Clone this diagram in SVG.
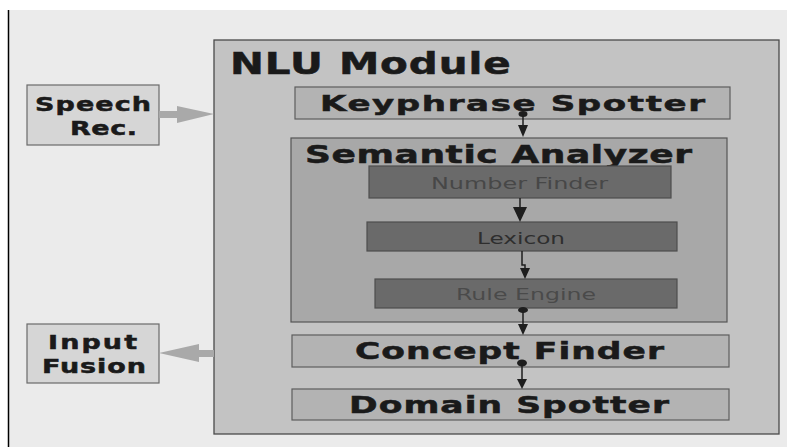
<svg xmlns="http://www.w3.org/2000/svg" width="787" height="447" viewBox="0 0 787 447">
<defs>
<style>
.bg{fill:#ebebeb}
.side{fill:#d6d6d6;stroke:#6a6a6a;stroke-width:1.2}
.mod{fill:#c3c3c3;stroke:#4a4a4a;stroke-width:1.3}
.stage{fill:#b3b3b3;stroke:#5e5e5e;stroke-width:1.2}
.sem{fill:#a8a8a8;stroke:#555;stroke-width:1.2}
.inner{fill:#6a6a6a;stroke:#4e4e4e;stroke-width:1.2}
.bold{font-family:"DejaVu Sans",Verdana,sans-serif;font-weight:bold;fill:#1a1a1a;stroke:#1a1a1a;stroke-width:0.5}
.thin{font-family:"DejaVu Sans",Verdana,sans-serif;font-weight:normal}
.conn{stroke:#1e1e1e;stroke-width:1.5;fill:none}
.head{fill:#1e1e1e}
.garrow{fill:#a9a9a9}
</style>
</defs>
<rect x="0" y="0" width="787" height="447" fill="#ffffff"/>
<rect class="bg" x="8" y="10" width="779" height="437"/>
<line x1="8.5" y1="10" x2="8.5" y2="447" stroke="#000" stroke-width="1.5"/>

<g id="nlu-module">
<rect class="mod" x="214" y="40" width="565" height="394"/>
<text class="bold" transform="translate(230,74) scale(1.35,1)" font-size="30" textLength="208" lengthAdjust="spacing">NLU Module</text>
</g>

<g id="speech-rec">
<rect class="side" x="27" y="85" width="132" height="60"/>
<text class="bold" transform="translate(35,110.5) scale(1.35,1)" font-size="20" textLength="86" lengthAdjust="spacing">Speech</text>
<text class="bold" transform="translate(70,135) scale(1.35,1)" font-size="20" textLength="49.6" lengthAdjust="spacing">Rec.</text>
</g>

<g id="input-fusion">
<rect class="side" x="27" y="324" width="132" height="59"/>
<text class="bold" transform="translate(48,349) scale(1.35,1)" font-size="20" textLength="66" lengthAdjust="spacing">Input</text>
<text class="bold" transform="translate(42,373) scale(1.35,1)" font-size="20" textLength="77" lengthAdjust="spacing">Fusion</text>
</g>

<g id="keyphrase-spotter">
<rect class="stage" x="295" y="87" width="435" height="32"/>
<text class="bold" transform="translate(320,111) scale(1.55,1)" font-size="22" textLength="248.4" lengthAdjust="spacing">Keyphrase Spotter</text>
</g>

<g id="semantic-analyzer">
<rect class="sem" x="291" y="138" width="436" height="184"/>
<text class="bold" transform="translate(305,163) scale(1.5,1)" font-size="24" textLength="258" lengthAdjust="spacing">Semantic Analyzer</text>
</g>

<g id="number-finder">
<rect class="inner" x="369" y="166" width="302" height="32"/>
<text class="thin" x="431" y="188.5" font-size="16" fill="#474747" textLength="177" lengthAdjust="spacingAndGlyphs">Number Finder</text>
</g>

<g id="lexicon">
<rect class="inner" x="367" y="222" width="310" height="29"/>
<text class="thin" x="477" y="243.5" font-size="16" fill="#2e2e2e" textLength="88" lengthAdjust="spacingAndGlyphs">Lexicon</text>
</g>

<g id="rule-engine">
<rect class="inner" x="375" y="279" width="302" height="29"/>
<text class="thin" x="456" y="299.5" font-size="16" fill="#4a4a4a" textLength="140" lengthAdjust="spacingAndGlyphs">Rule Engine</text>
</g>

<g id="concept-finder">
<rect class="stage" x="292" y="335" width="437" height="32"/>
<text class="bold" transform="translate(355,359) scale(1.5,1)" font-size="23" textLength="206" lengthAdjust="spacing">Concept Finder</text>
</g>

<g id="domain-spotter">
<rect class="stage" x="292" y="389" width="437" height="31"/>
<text class="bold" transform="translate(349,413) scale(1.5,1)" font-size="23" textLength="213.3" lengthAdjust="spacing">Domain Spotter</text>
</g>

<g id="connectors">
<polygon class="garrow" points="159,111 177,111 177,106 214,114 177,123 177,118 159,118"/>
<polygon class="garrow" points="214,350 199,350 199,344 159,353 199,362 199,357 214,357"/>
<ellipse class="head" cx="523" cy="114" rx="4.5" ry="3"/>
<line class="conn" x1="523" y1="114" x2="523" y2="126"/>
<polygon class="head" points="518,125 528,125 523,137"/>
<line class="conn" x1="520" y1="198" x2="520" y2="209"/>
<polygon class="head" points="513,207 527,207 520,222"/>
<polyline class="conn" points="522,251 522,265 525,265 525,269"/>
<polygon class="head" points="520,268 530,268 525,279"/>
<ellipse class="head" cx="523" cy="310" rx="5" ry="3"/>
<line class="conn" x1="523" y1="310" x2="523" y2="325"/>
<polygon class="head" points="518,324 528,324 523,335"/>
<ellipse class="head" cx="522" cy="363" rx="5" ry="3.5"/>
<line class="conn" x1="522" y1="363" x2="522" y2="380"/>
<polygon class="head" points="517,379 527,379 522,389"/>
</g>
</svg>
